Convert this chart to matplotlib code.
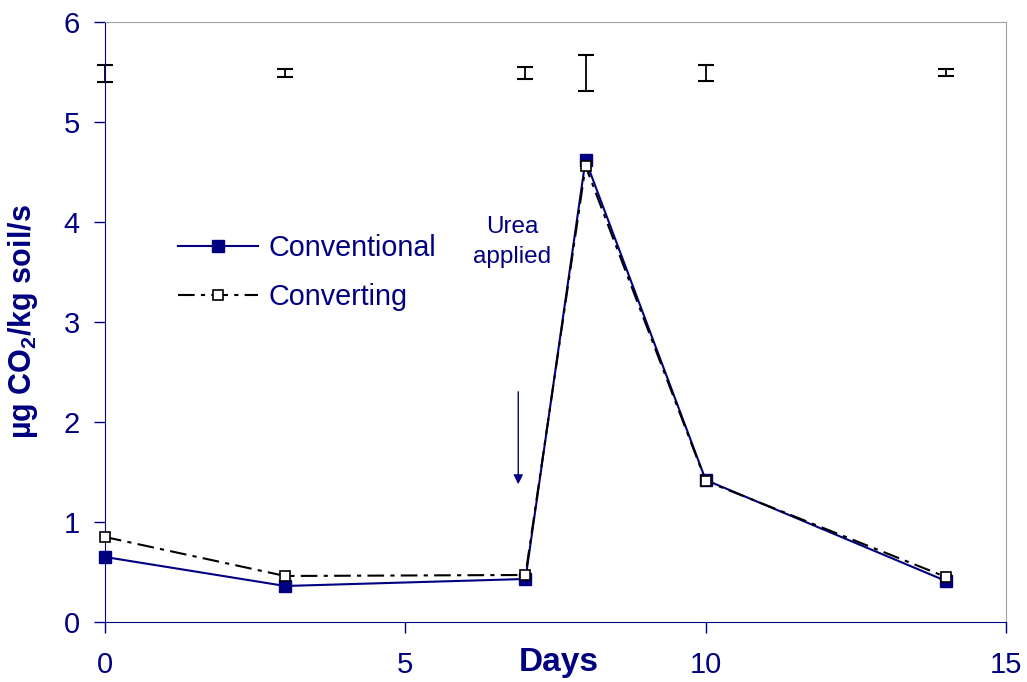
import matplotlib.pyplot as plt

plt.rcParams['font.family'] = ['Liberation Sans', 'DejaVu Sans']

navy = "#000080"

days = [0, 3, 7, 8, 10, 14]
conventional = [0.65, 0.36, 0.43, 4.62, 1.42, 0.41]
converting = [0.85, 0.46, 0.47, 4.56, 1.41, 0.45]

# LSD-style bars drawn across the top
err_center = [5.49, 5.49, 5.49, 5.49, 5.49, 5.495]
err_half = [0.085, 0.04, 0.06, 0.18, 0.08, 0.035]

fig = plt.figure(figsize=(10.27, 6.82), dpi=100)
ax = fig.add_axes([0.1022, 0.088, 0.8774, 0.8797])

ax.plot(days, conventional, color=navy, lw=1.5, marker="s", ms=8,
        mfc=navy, mec=navy, label="Conventional", clip_on=False, zorder=3)
ax.plot(days, converting, color="black", lw=1.5, ls=(0, (8, 3, 2, 3)),
        marker="s", ms=7, mfc="white", mec="black", mew=1.2,
        label="Converting", clip_on=False, zorder=4)

ax.errorbar(days, err_center, yerr=err_half, fmt="none", ecolor="black",
            elinewidth=1.3, capsize=6, capthick=1.5, clip_on=False)

ax.annotate("", xy=(6.88, 1.35), xytext=(6.88, 2.33),
            arrowprops=dict(arrowstyle="-|>", color=navy, lw=1.0,
                            mutation_scale=14))
ax.text(6.78, 3.8, "Urea\napplied", color=navy, fontsize=17.5,
        ha="center", va="center", linespacing=1.45)

ax.set_xlim(0, 15)
ax.set_ylim(0, 6)
ax.set_xticks([0, 5, 10, 15])
ax.set_yticks([0, 1, 2, 3, 4, 5, 6])
ax.tick_params(axis="both", colors=navy, labelsize=21, length=8,
               width=1, direction="out", pad=10)
ax.tick_params(axis="x", pad=13)

for s in ["left", "bottom"]:
    ax.spines[s].set_color(navy)
for s in ["top", "right"]:
    ax.spines[s].set_color("#a0a0a0")

ax.set_ylabel(r"µg CO$_\mathregular{2}$/kg soil/s", color=navy, fontsize=22,
              fontweight="bold")
ax.yaxis.set_label_coords(-0.072, 0.5)
ax.text(7.55, -0.41, "Days", color=navy, fontsize=24, fontweight="bold",
        ha="center", va="center")

leg = ax.legend(loc="upper left", bbox_to_anchor=(0.052, 0.69), frameon=False,
                fontsize=20.7, handlelength=2.8, handletextpad=0.35,
                labelspacing=0.75)
for t in leg.get_texts():
    t.set_color(navy)

fig.savefig("out.png", dpi=100)
